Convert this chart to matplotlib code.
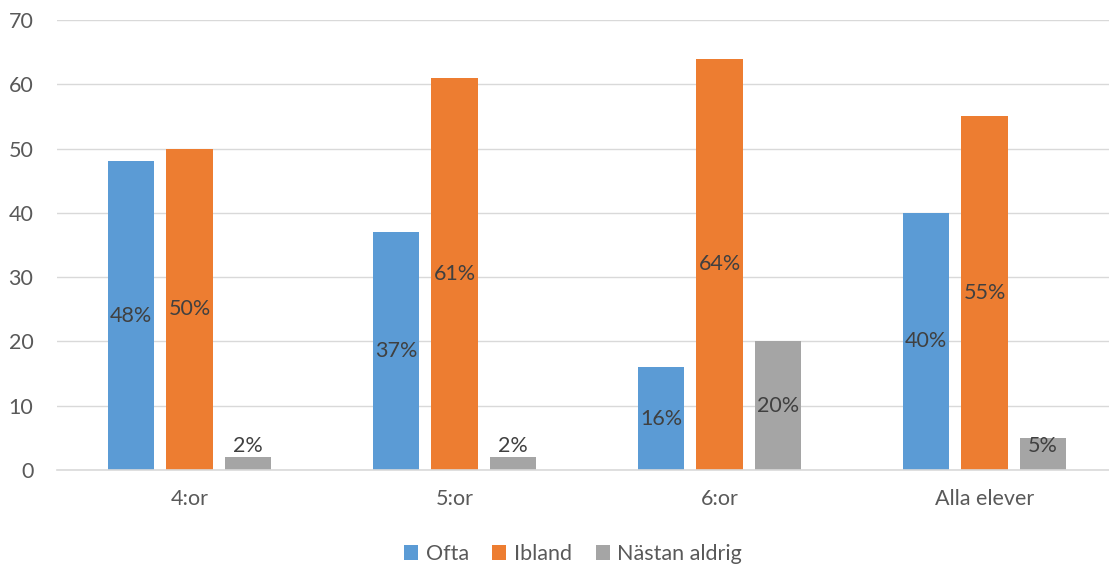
import matplotlib.pyplot as plt
import numpy as np

plt.rcParams['font.family'] = ['Lato', 'DejaVu Sans']

# data
groups = ["4:or", "5:or", "6:or", "Alla elever"]
series = ["Ofta", "Ibland", "Nästan aldrig"]
ofta = [48, 37, 16, 40]
ibland = [50, 61, 64, 55]
nastan = [2, 2, 20, 5]
values = [ofta, ibland, nastan]
colors = ["#5b9bd5", "#ed7d31", "#a5a5a5"]

W, H = 1109, 570
fig = plt.figure(figsize=(W / 100, H / 100), dpi=100)
# plot area runs a bit past the right edge, as in the original
ax = fig.add_axes([57 / W, 1 - 470 / H, (1117 - 57) / W, 450 / H])

x = np.arange(len(groups))
width = 0.174
step = 0.221
for k in range(3):
    pos = x + (k - 1) * step
    bars = ax.bar(pos, values[k], width, color=colors[k], label=series[k], zorder=2)
    for b, v in zip(bars, values[k]):
        ypos = max(v / 2, 3.7)
        ax.text(b.get_x() + b.get_width() / 2, ypos, str(v) + "%",
                ha='center', va='center', fontsize=15.5, color='#404040', zorder=3)

ax.set_xlim(-0.5, len(groups) - 0.5)
ax.set_ylim(0, 70)
ax.set_yticks(range(0, 71, 10))
ax.set_xticks(x)
ax.set_xticklabels(groups)
ax.yaxis.grid(True, color='#d9d9d9', linewidth=1, zorder=0)
ax.set_axisbelow(True)
for s in ['top', 'right', 'left']:
    ax.spines[s].set_visible(False)
ax.spines['bottom'].set_color('#d9d9d9')
ax.spines['bottom'].set_linewidth(1.2)
ax.tick_params(axis='both', length=0, labelsize=15.5, colors='#595959')
ax.tick_params(axis='y', pad=17)
ax.tick_params(axis='x', pad=14)

leg = fig.legend(loc='center', bbox_to_anchor=(573 / W, 1 - 554 / H), ncol=3,
                 frameon=False, fontsize=15.5, handlelength=0.65, handleheight=0.65,
                 handletextpad=0.35, columnspacing=1.1)
for t in leg.get_texts():
    t.set_color('#595959')

fig.savefig("out.png", dpi=100)
